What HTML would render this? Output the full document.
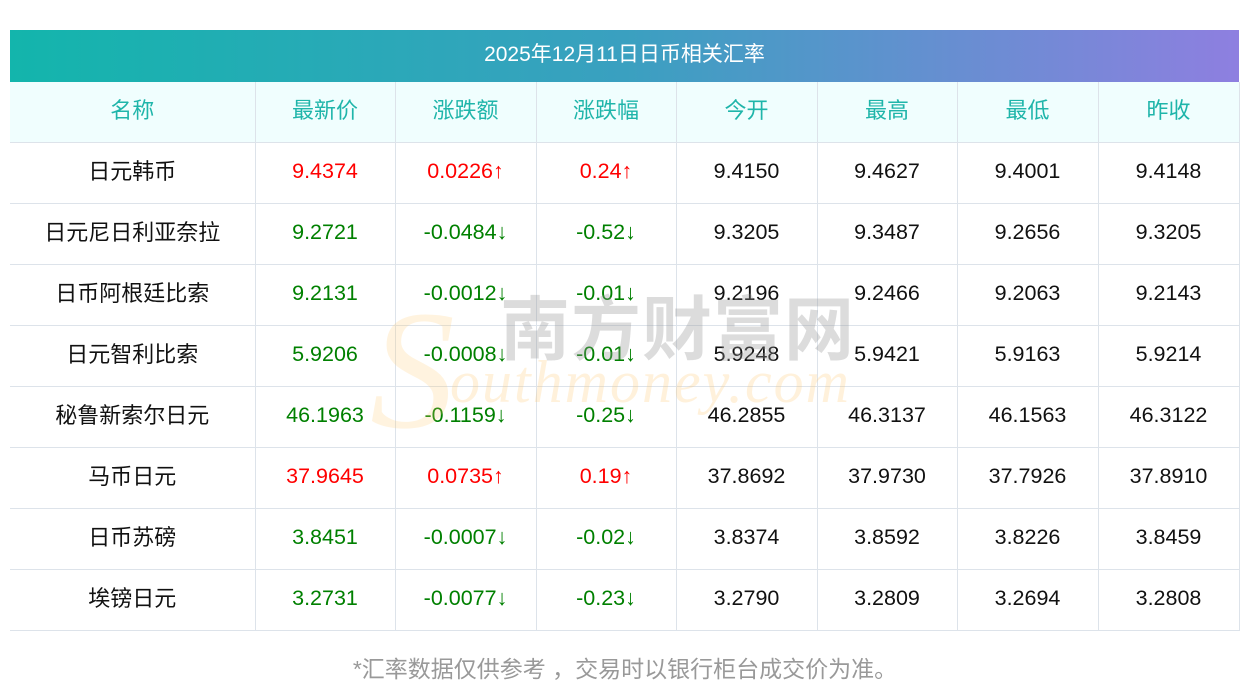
<!DOCTYPE html>
<html><head><meta charset="utf-8"><style>
*{margin:0;padding:0;box-sizing:border-box}
body{width:1250px;height:697px;background:#fff;position:relative;overflow:hidden;font-family:"Liberation Sans","Noto Sans CJK SC",sans-serif}
.title{position:absolute;left:10px;top:30px;width:1229px;height:52px;background:linear-gradient(90deg,#13b5ac,#3aa0c0 50%,#8e7fe0);color:#fff;font-size:21px;line-height:50px;text-align:center}
table{position:absolute;left:10px;top:82px;width:1229px;border-collapse:collapse;table-layout:fixed}
td{height:61px;text-align:center;font-size:21.5px;color:#111;border-bottom:1px solid #dde3ea;border-left:1px solid #dde3ea;padding-bottom:2px}
td:first-child{border-left:none;font-size:22px;padding-bottom:6px}
td:last-child{border-right:1px solid #dde3ea}
tr.h td{background:#f0fefe;color:#1fb5aa;height:60px;font-size:22px;padding-bottom:6px}
.r{color:#f00}.g{color:#008000}
.wm1{position:absolute;left:500px;top:290px;font-size:70px;line-height:1;color:rgba(150,150,150,.33);letter-spacing:1px;font-weight:bold;font-family:"Noto Sans CJK SC",sans-serif}
.wm2{position:absolute;left:450px;top:352px;font-size:60px;line-height:1;font-style:italic;color:rgba(255,200,110,.25);font-family:"Liberation Serif",serif;letter-spacing:2px}
.s{position:absolute;left:370px;top:285px;font-size:170px;font-style:italic;color:rgba(255,200,110,.22);font-family:"Liberation Serif",serif;line-height:1}
.foot{position:absolute;left:0;width:1250px;top:650px;text-align:center;color:#999;font-size:23px}
</style></head><body>
<div class="title">2025年12月11日日币相关汇率</div>
<table>
<colgroup><col style="width:245px"><col style="width:140px"><col style="width:141px"><col style="width:140px"><col style="width:141px"><col style="width:140px"><col style="width:141px"><col style="width:141px"></colgroup>
<tr class="h"><td>名称</td><td>最新价</td><td>涨跌额</td><td>涨跌幅</td><td>今开</td><td>最高</td><td>最低</td><td>昨收</td></tr>
<tr><td>日元韩币</td><td class="r">9.4374</td><td class="r">0.0226↑</td><td class="r">0.24↑</td><td>9.4150</td><td>9.4627</td><td>9.4001</td><td>9.4148</td></tr>
<tr><td>日元尼日利亚奈拉</td><td class="g">9.2721</td><td class="g">-0.0484↓</td><td class="g">-0.52↓</td><td>9.3205</td><td>9.3487</td><td>9.2656</td><td>9.3205</td></tr>
<tr><td>日币阿根廷比索</td><td class="g">9.2131</td><td class="g">-0.0012↓</td><td class="g">-0.01↓</td><td>9.2196</td><td>9.2466</td><td>9.2063</td><td>9.2143</td></tr>
<tr><td>日元智利比索</td><td class="g">5.9206</td><td class="g">-0.0008↓</td><td class="g">-0.01↓</td><td>5.9248</td><td>5.9421</td><td>5.9163</td><td>5.9214</td></tr>
<tr><td>秘鲁新索尔日元</td><td class="g">46.1963</td><td class="g">-0.1159↓</td><td class="g">-0.25↓</td><td>46.2855</td><td>46.3137</td><td>46.1563</td><td>46.3122</td></tr>
<tr><td>马币日元</td><td class="r">37.9645</td><td class="r">0.0735↑</td><td class="r">0.19↑</td><td>37.8692</td><td>37.9730</td><td>37.7926</td><td>37.8910</td></tr>
<tr><td>日币苏磅</td><td class="g">3.8451</td><td class="g">-0.0007↓</td><td class="g">-0.02↓</td><td>3.8374</td><td>3.8592</td><td>3.8226</td><td>3.8459</td></tr>
<tr><td>埃镑日元</td><td class="g">3.2731</td><td class="g">-0.0077↓</td><td class="g">-0.23↓</td><td>3.2790</td><td>3.2809</td><td>3.2694</td><td>3.2808</td></tr>
</table>
<div class="s">S</div>
<div class="wm1">南方财富网</div>
<div class="wm2">outhmoney.com</div>
<div class="foot">*汇率数据仅供参考 ，交易时以银行柜台成交价为准。</div>
</body></html>
